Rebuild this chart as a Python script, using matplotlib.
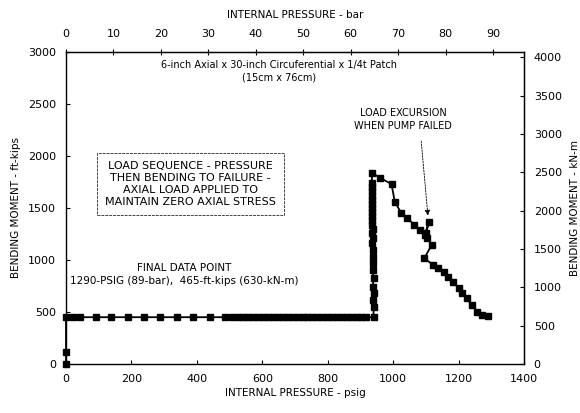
import matplotlib
matplotlib.use("Agg")
import matplotlib.pyplot as plt

# ---- data ----
pressure_psig = [0, 0, 0, 21, 43, 92, 138, 190, 238, 288, 340, 389, 441, 486, 508,
                 525, 540, 557, 572, 588, 603, 618, 633, 648, 663, 678, 693, 708,
                 723, 738, 753, 768, 783, 798, 813, 828, 843, 858, 873, 888, 903,
                 918, 940,
                 940, 938, 940, 938, 940, 937, 939, 937, 938, 936, 938, 936, 937,
                 935, 936, 935, 936, 934, 935, 934, 935, 934, 935, 935, 935,
                 960, 995, 1005, 1025, 1043, 1065, 1082, 1097, 1110, 1100, 1105,
                 1118, 1095, 1123, 1138, 1154, 1169, 1184, 1200, 1210, 1225, 1240,
                 1256, 1271, 1290]
moment_ftkips = [0, 115, 450, 450, 450, 450, 450, 450, 450, 450, 450, 450, 450, 450, 450,
                 450, 450, 450, 450, 450, 450, 450, 450, 450, 450, 450, 450, 450,
                 450, 450, 450, 450, 450, 450, 450, 450, 450, 450, 450, 450, 450,
                 450, 450,
                 550, 615, 680, 745, 825, 905, 970, 1030, 1095, 1160, 1210, 1260, 1300,
                 1340, 1380, 1420, 1460, 1500, 1540, 1580, 1620, 1660, 1700, 1740, 1840,
                 1790, 1730, 1560, 1450, 1405, 1335, 1290, 1245, 1370, 1255, 1208,
                 1145, 1016, 952, 920, 888, 840, 791, 728, 680, 632, 567,
                 503, 470, 465]

psig_ticks = [0, 200, 400, 600, 800, 1000, 1200, 1400]
ftkip_ticks = [0, 500, 1000, 1500, 2000, 2500, 3000]
bar_ticks = [0, 10, 20, 30, 40, 50, 60, 70, 80, 90]
knm_ticks = [0, 500, 1000, 1500, 2000, 2500, 3000, 3500, 4000]

PSI_PER_BAR = 14.5038
KNM_PER_FTKIP = 1.35582

plt.rcParams['font.family'] = ['DejaVu Sans']

fig = plt.figure(figsize=(5.8, 4.13), dpi=100)
ax = fig.add_axes([66/580, 1-364/413, (524-66)/580, (364-52)/413])

ax.plot(pressure_psig, moment_ftkips, color='black', lw=1.3, marker='s',
        markersize=5, markerfacecolor='black', markeredgecolor='black',
        clip_on=False, zorder=3)

ax.set_xlim(0, 1400)
ax.set_ylim(0, 3000)
ax.set_xticks(psig_ticks)
ax.set_yticks(ftkip_ticks)
ax.tick_params(axis='both', direction='in', length=3, width=0.8, labelsize=8, pad=7)
for s in ax.spines.values():
    s.set_linewidth(1.0)

ax.set_xlabel('INTERNAL PRESSURE - psig', fontsize=7.5, labelpad=3)
ax.set_ylabel('BENDING MOMENT - ft-kips', fontsize=7.5, labelpad=5)

top = ax.secondary_xaxis('top', functions=(lambda p: p / PSI_PER_BAR,
                                           lambda b: b * PSI_PER_BAR))
top.set_xticks(bar_ticks)
top.tick_params(direction='inout', length=5, width=0.8, labelsize=8, pad=7)
top.set_xlabel('INTERNAL PRESSURE - bar', fontsize=7.5, labelpad=8)

right = ax.secondary_yaxis('right', functions=(lambda m: m * KNM_PER_FTKIP,
                                               lambda k: k / KNM_PER_FTKIP))
right.set_yticks(knm_ticks)
right.tick_params(direction='in', length=3, width=0.8, labelsize=8, pad=7)
right.set_ylabel('BENDING MOMENT - kN-m', fontsize=7.5, labelpad=6)

# annotations
ax.text(650, 2815, '6-inch Axial x 30-inch Circuferential x 1/4t Patch\n(15cm x 76cm)',
        ha='center', va='center', fontsize=7, linespacing=1.3)
ax.text(1030, 2350, 'LOAD EXCURSION\nWHEN PUMP FAILED', ha='center', va='center',
        fontsize=7, linespacing=1.3)
ax.annotate('', xy=(1107, 1400), xytext=(1085, 2170),
            arrowprops=dict(arrowstyle='-|>', color='black', lw=0.6,
                            linestyle=(0, (2, 1.5)), mutation_scale=8))
ax.text(380, 1730, 'LOAD SEQUENCE - PRESSURE\nTHEN BENDING TO FAILURE -\n'
        'AXIAL LOAD APPLIED TO\nMAINTAIN ZERO AXIAL STRESS',
        ha='center', va='center', fontsize=8, linespacing=1.25,
        bbox=dict(boxstyle='square,pad=0.7', facecolor='white',
                  edgecolor='#444444', lw=0.7, linestyle=(0, (3, 1))))
ax.text(360, 860, 'FINAL DATA POINT\n1290-PSIG (89-bar),  465-ft-kips (630-kN-m)',
        ha='center', va='center', fontsize=7.5, linespacing=1.3)

fig.savefig('out.png', dpi=100)
